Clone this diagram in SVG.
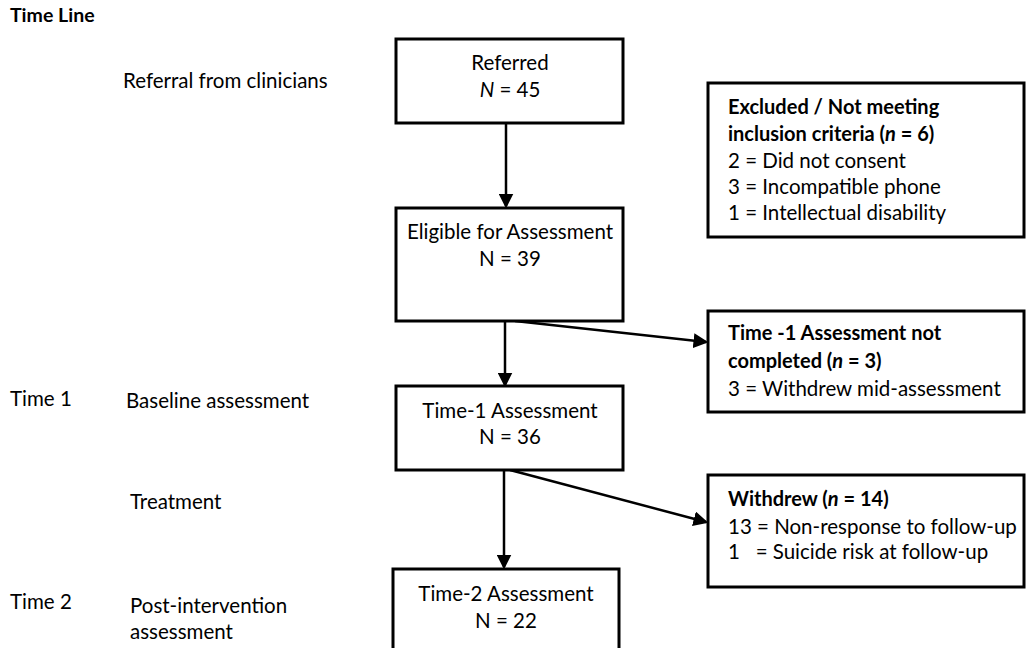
<svg xmlns="http://www.w3.org/2000/svg" width="1027" height="648" viewBox="0 0 1027 648">
<style>
text{font-family:Lato,"Open Sans",sans-serif;font-size:20.5px;fill:#000}
.b{font-weight:bold;font-size:20px}
.c{text-anchor:middle}
.pre{white-space:pre}
.box{fill:#fff;stroke:#000;stroke-width:3}
.con{stroke:#000;stroke-width:2.5;fill:none;marker-end:url(#ah)}
</style>
<defs>
<marker id="ah" markerWidth="6" markerHeight="6" refX="5" refY="3" orient="auto" markerUnits="strokeWidth">
<path d="M0,0 L6,3 L0,6 z" fill="#000"/>
</marker>
</defs>
<rect width="1027" height="648" fill="#fff"/>
<g id="timeline">
<text x="10" y="22" class="b" style="font-size:19.5px">Time Line</text>
<text x="123" y="88">Referral from clinicians</text>
<text x="10" y="406">Time 1</text>
<text x="126" y="408">Baseline assessment</text>
<text x="130" y="509">Treatment</text>
<text x="10" y="609">Time 2</text>
<text x="130" y="613">Post-intervention</text>
<text x="130" y="639">assessment</text>
</g>
<g id="connectors">
<line class="con" x1="506" y1="123" x2="506" y2="206"/>
<line class="con" x1="505" y1="321" x2="505" y2="385"/>
<line class="con" x1="515" y1="321" x2="706" y2="342"/>
<line class="con" x1="504" y1="470" x2="504" y2="567"/>
<line class="con" x1="510" y1="470" x2="706" y2="522"/>
</g>
<g id="referred">
<rect class="box" x="396" y="39" width="227" height="84"/>
<text x="510" y="70" class="c">Referred</text>
<text x="510" y="97" class="c"><tspan font-style="italic">N</tspan> = 45</text>
</g>
<g id="eligible">
<rect class="box" x="396" y="208" width="227" height="113"/>
<text x="510" y="239" class="c">Eligible for Assessment</text>
<text x="510" y="266" class="c">N = 39</text>
</g>
<g id="time1">
<rect class="box" x="396" y="386" width="227" height="84"/>
<text x="510" y="418" class="c">Time-1 Assessment</text>
<text x="510" y="444" class="c">N = 36</text>
</g>
<g id="time2">
<rect class="box" x="393" y="569" width="226" height="84"/>
<text x="506" y="601" class="c">Time-2 Assessment</text>
<text x="506" y="628" class="c">N = 22</text>
</g>
<g id="excluded">
<rect class="box" x="708" y="83" width="316" height="154"/>
<text x="728" y="114" class="b">Excluded / Not meeting</text>
<text x="728" y="141" class="b">inclusion criteria (<tspan font-style="italic">n</tspan> = 6)</text>
<text x="728" y="168">2 = Did not consent</text>
<text x="728" y="194">3 = Incompatible phone</text>
<text x="728" y="220">1 = Intellectual disability</text>
</g>
<g id="notcompleted">
<rect class="box" x="708" y="311" width="316" height="101"/>
<text x="728" y="340" class="b">Time -1 Assessment not</text>
<text x="728" y="368" class="b">completed (<tspan font-style="italic">n</tspan> = 3)</text>
<text x="728" y="396">3 = Withdrew mid-assessment</text>
</g>
<g id="withdrew">
<rect class="box" x="708" y="475" width="316" height="112"/>
<text x="728" y="506" class="b">Withdrew (<tspan font-style="italic">n</tspan> = 14)</text>
<text x="728" y="534">13 = Non-response to follow-up</text>
<text x="728" y="559" class="pre">1   = Suicide risk at follow-up</text>
</g>
</svg>
